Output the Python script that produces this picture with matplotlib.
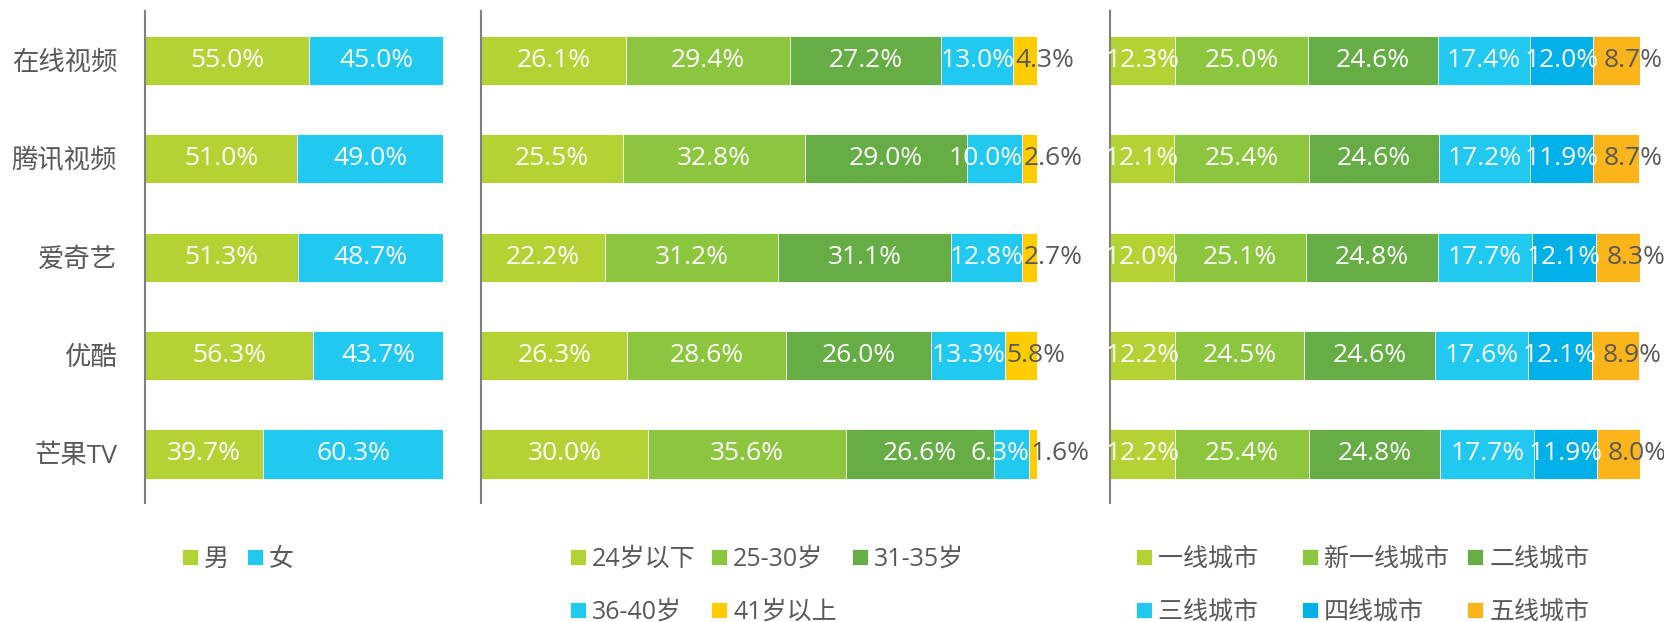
import matplotlib
matplotlib.use("Agg")
import matplotlib.pyplot as plt
import numpy as np

plt.rcParams['font.family'] = ['Open Sans', 'Noto Sans CJK SC', 'DejaVu Sans']

platforms = ['在线视频', '腾讯视频', '爱奇艺', '优酷', '芒果TV']

gender_labels = ['男', '女']
male = [55.0, 51.0, 51.3, 56.3, 39.7]
female = [45.0, 49.0, 48.7, 43.7, 60.3]

age_labels = ['24岁以下', '25-30岁', '31-35岁', '36-40岁', '41岁以上']
age_u24 = [26.1, 25.5, 22.2, 26.3, 30.0]
age_25_30 = [29.4, 32.8, 31.2, 28.6, 35.6]
age_31_35 = [27.2, 29.0, 31.1, 26.0, 26.6]
age_36_40 = [13.0, 10.0, 12.8, 13.3, 6.3]
age_41p = [4.3, 2.6, 2.7, 5.8, 1.6]

city_labels = ['一线城市', '新一线城市', '二线城市', '三线城市', '四线城市', '五线城市']
city_t1 = [12.3, 12.1, 12.0, 12.2, 12.2]
city_new1 = [25.0, 25.4, 25.1, 24.5, 25.4]
city_t2 = [24.6, 24.6, 24.8, 24.6, 24.8]
city_t3 = [17.4, 17.2, 17.7, 17.6, 17.7]
city_t4 = [12.0, 11.9, 12.1, 12.1, 11.9]
city_t5 = [8.7, 8.7, 8.3, 8.9, 8.0]

c_lime = '#b3d234'
c_green = '#8cc63f'
c_dgreen = '#66ad45'
c_cyan = '#21c8f0'
c_blue = '#00b0e6'
c_yellow = '#ffcc00'
c_orange = '#fbb41a'
gray = '#595959'

fig = plt.figure(figsize=(16.65, 6.22), dpi=100)
bottom, height = 0.191, 0.791
ax1 = fig.add_axes([0.0871, bottom, 0.179, height])
ax2 = fig.add_axes([0.289, bottom, 0.334, height])
ax3 = fig.add_axes([0.6667, bottom, 0.318, height])

y = np.arange(len(platforms))
FS = 19


def draw(ax, series, labels, colors, last_offset=None):
    left = np.zeros(len(platforms))
    n = len(series)
    for si, (vals, lab, col) in enumerate(zip(series, labels, colors)):
        vals = np.array(vals)
        ax.barh(y, vals, left=left, height=0.5, color=col, label=lab,
                edgecolor='white', linewidth=0.6)
        for i, v in enumerate(vals):
            txt = f'{v:.1f}%'
            if last_offset is not None and si == n - 1:
                ax.text(left[i] + last_offset, y[i], txt, ha='left', va='center',
                        color=gray, fontsize=FS)
            elif last_offset is not None and si == n - 2 and v < 11:
                ax.text(left[i] + v, y[i], txt, ha='right', va='center',
                        color='white', fontsize=FS)
            else:
                ax.text(left[i] + v / 2, y[i], txt, ha='center', va='center',
                        color='white', fontsize=FS)
        left = left + vals
    ax.set_xlim(0, 100)
    ax.set_ylim(4.5, -0.5)
    ax.set_xticks([])
    for s in ['top', 'right', 'bottom']:
        ax.spines[s].set_visible(False)
    ax.spines['left'].set_color('#7f7f7f')
    ax.spines['left'].set_linewidth(1.5)
    ax.tick_params(axis='y', length=0)


draw(ax1, [male, female], gender_labels, [c_lime, c_cyan])
ax1.set_yticks(y)
ax1.set_yticklabels(platforms, fontsize=FS, color=gray)
ax1.tick_params(axis='y', pad=20)

draw(ax2, [age_u24, age_25_30, age_31_35, age_36_40, age_41p], age_labels,
     [c_lime, c_green, c_dgreen, c_cyan, c_yellow], last_offset=0.3)
ax2.set_yticks([])

draw(ax3, [city_t1, city_new1, city_t2, city_t3, city_t4, city_t5], city_labels,
     [c_lime, c_green, c_dgreen, c_cyan, c_blue, c_orange], last_offset=2.0)
ax3.set_yticks([])


def rowwise(ax, ncol, pad_first_col=False):
    h, l = ax.get_legend_handles_labels()
    if pad_first_col:
        l = [lab + '\u3000' if i % ncol == 0 else lab for i, lab in enumerate(l)]
    idx = []
    for c in range(ncol):
        idx += list(range(c, len(h), ncol))
    return [h[i] for i in idx], [l[i] for i in idx]


leg_kw = dict(loc='upper left', bbox_transform=fig.transFigure, frameon=False,
              fontsize=18, labelcolor=gray, handlelength=0.64, handleheight=0.64,
              handletextpad=0.25, borderpad=0, borderaxespad=0, labelspacing=1.12)
ax1.legend(*rowwise(ax1, 2), bbox_to_anchor=(0.1093, 0.1206), ncol=2,
           columnspacing=0.7, **leg_kw)
ax2.legend(*rowwise(ax2, 3), bbox_to_anchor=(0.3423, 0.1206), ncol=3,
           columnspacing=0.6, **leg_kw)
ax3.legend(*rowwise(ax3, 3, pad_first_col=True), bbox_to_anchor=(0.6823, 0.1206),
           ncol=3, columnspacing=0.73, **leg_kw)

fig.savefig('out.png', dpi=100)
